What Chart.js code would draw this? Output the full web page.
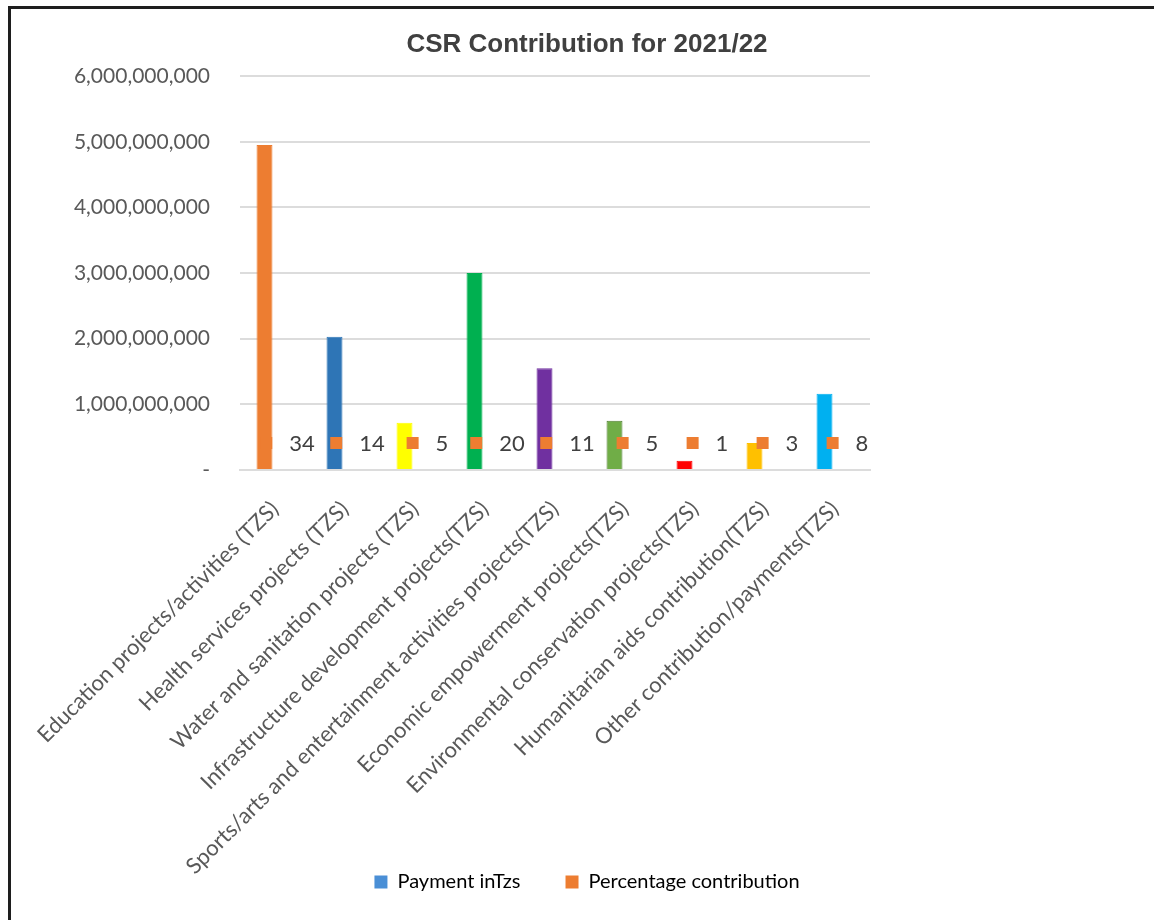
<!DOCTYPE html>
<html>
<head>
<meta charset="utf-8">
<title>CSR Contribution for 2021/22</title>
<script src="https://cdn.jsdelivr.net/npm/chart.js@4.4.0/dist/chart.umd.min.js"></script>
<style>
  body { margin: 0; background: #fff; overflow: hidden; }
  #wrap { position: relative; width: 1154px; height: 920px; }
  #frame { position: absolute; left: 8px; top: 6px; right: -10px; bottom: -10px;
           border-top: 3px solid #1e1e1e; border-left: 3px solid #1e1e1e; pointer-events: none; }
</style>
</head>
<body>
<div id="wrap">
  <canvas id="myChart"></canvas>
  <div id="frame"></div>
</div>
<script>
const categories = [
  "Education projects/activities (TZS)",
  "Health services projects (TZS)",
  "Water and sanitation projects (TZS)",
  "Infrastructure development projects(TZS)",
  "Sports/arts and entertainment activities projects(TZS)",
  "Economic empowerment projects(TZS)",
  "Environmental conservation projects(TZS)",
  "Humanitarian aids contribution(TZS)",
  "Other contribution/payments(TZS)"
];
const payments = [4950000000, 2030000000, 720000000, 3000000000, 1550000000, 750000000, 140000000, 410000000, 1160000000];
const percentages = [34, 14, 5, 20, 11, 5, 1, 3, 8];
const barColors = ["#ED7D31", "#2E75B6", "#FFFF00", "#00B050", "#7030A0", "#70AD47", "#FF0000", "#FFC000", "#00B0F0"];
const barBorders = ["#ED7D31", "#2E75B6", "#FFFF00", "#00B050", "#7030A0", "#507E32", "#FF0000", "#FFC000", "#00B0F0"];

const textColor = "#595959";
const gridColor = "#dcdcdc";

// percentage labels with legend key, like the excel data labels
const pctLabels = {
  id: "pctLabels",
  afterDatasetsDraw(chart) {
    const ctx = chart.ctx;
    const meta = chart.getDatasetMeta(1);
    const base = chart.scales.y.getPixelForValue(0);
    ctx.save();
    ctx.font = "22px Lato";
    ctx.textBaseline = "middle";
    meta.data.forEach((bar, i) => {
      const txt = String(percentages[i]);
      const w = ctx.measureText(txt).width;
      const total = 12 + 17 + w;
      const left = bar.x - total / 2 + 2;
      ctx.fillStyle = "#ED7D31";
      ctx.fillRect(left, base - 33, 12, 12);
      ctx.fillStyle = "#404040";
      ctx.fillText(txt, left + 29, base - 26);
    });
    ctx.restore();
  }
};

function drawChart() {
  const ctx = document.getElementById("myChart");
  new Chart(ctx, {
    type: "bar",
    data: {
      labels: categories,
      datasets: [{
        label: "Payment inTzs",
        data: payments,
        backgroundColor: barColors,
        borderColor: barBorders,
        borderWidth: 1,
        categoryPercentage: 0.6,
        barPercentage: 0.76
      }, {
        label: "Percentage contribution",
        data: percentages,
        backgroundColor: "rgba(0,0,0,0)",
        borderWidth: 0,
        categoryPercentage: 0.6,
        barPercentage: 0.76
      }]
    },
    options: {
      responsive: true,
      maintainAspectRatio: false,
      animation: false,
      layout: { padding: { left: 20, right: 0, top: 0, bottom: 18 } },
      plugins: {
        title: {
          display: true,
          text: "CSR Contribution for 2021/22",
          color: "#404040",
          font: { family: "'Liberation Sans', Arial, sans-serif", size: 26, weight: "bold" },
          padding: { top: 29, bottom: 16 }
        },
        legend: {
          position: "bottom",
          labels: {
            color: textColor,
            font: { family: "Lato", size: 20 },
            boxWidth: 13,
            boxHeight: 13,
            padding: 45,
            generateLabels: () => [
              { text: "Payment inTzs", fillStyle: "#4A8FD6", strokeStyle: "#4A8FD6", lineWidth: 0, datasetIndex: 0 },
              { text: "Percentage contribution", fillStyle: "#ED7D31", strokeStyle: "#ED7D31", lineWidth: 0, datasetIndex: 1 }
            ]
          }
        },
        tooltip: { enabled: false }
      },
      scales: {
        x: {
          grid: { display: false },
          border: { color: gridColor, width: 2 },
          ticks: {
            color: textColor,
            font: { family: "Lato", size: 22 },
            autoSkip: false,
            maxRotation: 45,
            minRotation: 45,
            padding: 18
          },
          afterFit(scale) {
            scale.height = 357;
            // long labels run past the axis box, don't clip them
            scale._computeLabelArea = () => null;
          }
        },
        y: {
          min: 0,
          max: 6000000000,
          border: { display: false },
          grid: { color: gridColor, lineWidth: 2, drawTicks: false },
          ticks: {
            stepSize: 1000000000,
            color: textColor,
            font: { family: "Lato", size: 21 },
            padding: 30,
            callback: (v) => v === 0 ? "-" : v.toLocaleString("en-US")
          },
          afterFit(scale) { scale.width = 220; }
        },
        yr: {
          position: "right",
          display: true,
          min: 0,
          max: 1,
          grid: { display: false },
          border: { display: false },
          ticks: { display: false },
          afterFit(scale) { scale.width = 284; }
        }
      }
    },
    plugins: [pctLabels]
  });
}

Promise.all([
  document.fonts.load("21px Lato"),
  document.fonts.load("bold 26px 'Liberation Sans'")
]).then(drawChart, drawChart);
</script>
</body>
</html>
